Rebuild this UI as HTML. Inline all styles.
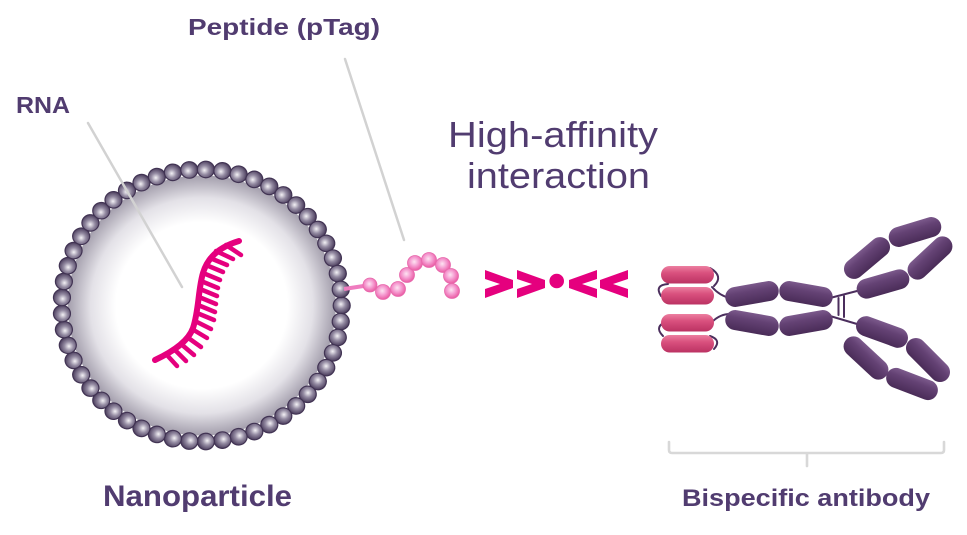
<!DOCTYPE html>
<html><head><meta charset="utf-8">
<style>
html,body{margin:0;padding:0;background:#fff;}
svg{display:block;}
text{font-family:"Liberation Sans",Arial,sans-serif;fill:#513c70;}
</style></head>
<body>
<svg width="967" height="535" viewBox="0 0 967 535" xmlns="http://www.w3.org/2000/svg">
<defs>
  <radialGradient id="np" cx="0.5" cy="0.5" r="0.5">
    <stop offset="0" stop-color="#ffffff"/>
    <stop offset="0.64" stop-color="#ffffff"/>
    <stop offset="0.83" stop-color="#e3e1e7"/>
    <stop offset="1" stop-color="#a39eac"/>
  </radialGradient>
  <radialGradient id="bead" cx="0.45" cy="0.42" r="0.6">
    <stop offset="0" stop-color="#f4f2f6"/>
    <stop offset="0.45" stop-color="#958ca3"/>
    <stop offset="1" stop-color="#463858"/>
  </radialGradient>
  <radialGradient id="pbead" cx="0.45" cy="0.42" r="0.6">
    <stop offset="0" stop-color="#fde4f2"/>
    <stop offset="0.5" stop-color="#f59ad0"/>
    <stop offset="1" stop-color="#e9569f"/>
  </radialGradient>
  <linearGradient id="pg" x1="0" y1="0" x2="0" y2="1">
    <stop offset="0" stop-color="#7c5a8c"/>
    <stop offset="0.35" stop-color="#644274"/>
    <stop offset="1" stop-color="#4a2c58"/>
  </linearGradient>
  <linearGradient id="kg" x1="0" y1="0" x2="0" y2="1">
    <stop offset="0" stop-color="#ec7fa1"/>
    <stop offset="0.4" stop-color="#d9507e"/>
    <stop offset="1" stop-color="#bb3262"/>
  </linearGradient>
  <circle id="b" cx="0" cy="0" r="8.5" fill="url(#bead)" stroke="#413353" stroke-width="1.2"/>
  <rect id="cap" x="-27" y="-10" width="54" height="20" rx="10" fill="url(#pg)"/>
</defs>

<ellipse cx="201.7" cy="305.5" rx="134" ry="130" fill="url(#np)"/>

<g transform="translate(201.7,305.5) scale(1,0.972)">
  <use href="#b" transform="rotate(0) translate(140,0)"/>
  <use href="#b" transform="rotate(6.79) translate(140,0)"/>
  <use href="#b" transform="rotate(13.58) translate(140,0)"/>
  <use href="#b" transform="rotate(20.38) translate(140,0)"/>
  <use href="#b" transform="rotate(27.17) translate(140,0)"/>
  <use href="#b" transform="rotate(33.96) translate(140,0)"/>
  <use href="#b" transform="rotate(40.75) translate(140,0)"/>
  <use href="#b" transform="rotate(47.55) translate(140,0)"/>
  <use href="#b" transform="rotate(54.34) translate(140,0)"/>
  <use href="#b" transform="rotate(61.13) translate(140,0)"/>
  <use href="#b" transform="rotate(67.92) translate(140,0)"/>
  <use href="#b" transform="rotate(74.72) translate(140,0)"/>
  <use href="#b" transform="rotate(81.51) translate(140,0)"/>
  <use href="#b" transform="rotate(88.30) translate(140,0)"/>
  <use href="#b" transform="rotate(95.09) translate(140,0)"/>
  <use href="#b" transform="rotate(101.89) translate(140,0)"/>
  <use href="#b" transform="rotate(108.68) translate(140,0)"/>
  <use href="#b" transform="rotate(115.47) translate(140,0)"/>
  <use href="#b" transform="rotate(122.26) translate(140,0)"/>
  <use href="#b" transform="rotate(129.06) translate(140,0)"/>
  <use href="#b" transform="rotate(135.85) translate(140,0)"/>
  <use href="#b" transform="rotate(142.64) translate(140,0)"/>
  <use href="#b" transform="rotate(149.43) translate(140,0)"/>
  <use href="#b" transform="rotate(156.23) translate(140,0)"/>
  <use href="#b" transform="rotate(163.02) translate(140,0)"/>
  <use href="#b" transform="rotate(169.81) translate(140,0)"/>
  <use href="#b" transform="rotate(176.60) translate(140,0)"/>
  <use href="#b" transform="rotate(183.40) translate(140,0)"/>
  <use href="#b" transform="rotate(190.19) translate(140,0)"/>
  <use href="#b" transform="rotate(196.98) translate(140,0)"/>
  <use href="#b" transform="rotate(203.77) translate(140,0)"/>
  <use href="#b" transform="rotate(210.57) translate(140,0)"/>
  <use href="#b" transform="rotate(217.36) translate(140,0)"/>
  <use href="#b" transform="rotate(224.15) translate(140,0)"/>
  <use href="#b" transform="rotate(230.94) translate(140,0)"/>
  <use href="#b" transform="rotate(237.74) translate(140,0)"/>
  <use href="#b" transform="rotate(244.53) translate(140,0)"/>
  <use href="#b" transform="rotate(251.32) translate(140,0)"/>
  <use href="#b" transform="rotate(258.11) translate(140,0)"/>
  <use href="#b" transform="rotate(264.91) translate(140,0)"/>
  <use href="#b" transform="rotate(271.70) translate(140,0)"/>
  <use href="#b" transform="rotate(278.49) translate(140,0)"/>
  <use href="#b" transform="rotate(285.28) translate(140,0)"/>
  <use href="#b" transform="rotate(292.08) translate(140,0)"/>
  <use href="#b" transform="rotate(298.87) translate(140,0)"/>
  <use href="#b" transform="rotate(305.66) translate(140,0)"/>
  <use href="#b" transform="rotate(312.45) translate(140,0)"/>
  <use href="#b" transform="rotate(319.25) translate(140,0)"/>
  <use href="#b" transform="rotate(326.04) translate(140,0)"/>
  <use href="#b" transform="rotate(332.83) translate(140,0)"/>
  <use href="#b" transform="rotate(339.62) translate(140,0)"/>
  <use href="#b" transform="rotate(346.42) translate(140,0)"/>
  <use href="#b" transform="rotate(353.21) translate(140,0)"/>
</g>

<line x1="88" y1="123" x2="182" y2="287" stroke="#d2d2d2" stroke-width="2.5" stroke-linecap="round"/>
<line x1="345" y1="59" x2="404" y2="240" stroke="#d2d2d2" stroke-width="2.5" stroke-linecap="round"/>

<g stroke="#e5007e" stroke-linecap="round" fill="none">
  <path d="M155,360 C172,352 188,342 193,328 C199,310 198,290 203,273 C208,256 222,246 239,241" stroke-width="6"/>
  <g stroke-width="4.5">
    <line x1="226" y1="245" x2="241" y2="255"/>
    <line x1="216" y1="251" x2="233" y2="259"/>
    <line x1="210" y1="258" x2="227" y2="265"/>
    <line x1="206" y1="265" x2="223" y2="272"/>
    <line x1="203" y1="273" x2="220" y2="280"/>
    <line x1="201" y1="281" x2="218" y2="288"/>
    <line x1="200" y1="289" x2="217" y2="296"/>
    <line x1="199" y1="297" x2="216" y2="304"/>
    <line x1="198" y1="305" x2="215" y2="312"/>
    <line x1="197" y1="313" x2="214" y2="320"/>
    <line x1="195" y1="321" x2="211" y2="329"/>
    <line x1="192" y1="329" x2="207" y2="338"/>
    <line x1="187" y1="337" x2="201" y2="347"/>
    <line x1="181" y1="344" x2="194" y2="355"/>
    <line x1="174" y1="349" x2="186" y2="361"/>
    <line x1="166" y1="354" x2="177" y2="366"/>
  </g>
</g>

<line x1="344" y1="289" x2="370" y2="285" stroke="#ef7cbf" stroke-width="4"/>
<g stroke="#e768ac" stroke-width="0.8">
  <circle cx="370" cy="285" r="7" fill="url(#pbead)"/>
  <circle cx="383" cy="292" r="7.5" fill="url(#pbead)"/>
  <circle cx="398" cy="289" r="7.5" fill="url(#pbead)"/>
  <circle cx="407" cy="275" r="7.5" fill="url(#pbead)"/>
  <circle cx="415" cy="263" r="7.5" fill="url(#pbead)"/>
  <circle cx="429" cy="260" r="7.5" fill="url(#pbead)"/>
  <circle cx="443" cy="265" r="7.5" fill="url(#pbead)"/>
  <circle cx="451" cy="276" r="7.5" fill="url(#pbead)"/>
  <circle cx="452" cy="291" r="7.5" fill="url(#pbead)"/>
</g>

<g fill="#e5007e">
  <polygon points="485,270 513,280 513,288 485,298 485,289 500,284 485,279"/>
  <polygon points="517,270 545,280 545,288 517,298 517,289 532,284 517,279"/>
  <circle cx="556.7" cy="281" r="7.3"/>
  <polygon points="597,270 569,280 569,288 597,298 597,289 582,284 597,279"/>
  <polygon points="628,270 600,280 600,288 628,298 628,289 613,284 628,279"/>
</g>

<g stroke="#4b2e5d" stroke-width="2" fill="none" stroke-linecap="round">
  <path d="M668,284 Q654,285 661,296"/>
  <path d="M710,268 Q724,276 714,286"/>
  <path d="M712,287 Q720,296 730,298"/>
  <path d="M668,321 Q653,326 663,336"/>
  <path d="M710,336 Q722,340 714,349"/>
  <path d="M712,322 Q720,314 730,314"/>
  <path d="M830,298 L857,291"/>
  <path d="M830,316 L857,324"/>
  <path d="M838.5,298 L838.5,315 M844,296 L844,317"/>
</g>

<g fill="url(#kg)">
  <rect x="661" y="266" width="53" height="17.5" rx="8.7"/>
  <rect x="661" y="287" width="53" height="17.5" rx="8.7"/>
  <rect x="661" y="314" width="53" height="17.5" rx="8.7"/>
  <rect x="661" y="335" width="53" height="17.5" rx="8.7"/>
</g>

<use href="#cap" transform="translate(752,294) rotate(-10)"/>
<use href="#cap" transform="translate(806,294) rotate(10)"/>
<use href="#cap" transform="translate(752,323) rotate(10)"/>
<use href="#cap" transform="translate(806,323) rotate(-10)"/>

<use href="#cap" transform="translate(867,258) rotate(-40)"/>
<use href="#cap" transform="translate(915,232) rotate(-17)"/>
<use href="#cap" transform="translate(930,258) rotate(-43)"/>
<use href="#cap" transform="translate(883,284) rotate(-16)"/>

<use href="#cap" transform="translate(882,332) rotate(20)"/>
<use href="#cap" transform="translate(866,358) rotate(43)"/>
<use href="#cap" transform="translate(912,384) rotate(21)"/>
<use href="#cap" transform="translate(928,360) rotate(45)"/>

<path d="M669,442 L669,450 Q669,453 672,453 L941,453 Q944,453 944,450 L944,442 M807,453 L807,466" stroke="#d8d8d8" stroke-width="2.6" fill="none" stroke-linecap="round"/>

<text x="16" y="113" font-size="23" font-weight="bold" textLength="54" lengthAdjust="spacingAndGlyphs">RNA</text>
<text x="188" y="35" font-size="23" font-weight="bold" textLength="192" lengthAdjust="spacingAndGlyphs">Peptide (pTag)</text>
<text x="448" y="147" font-size="36" textLength="210" lengthAdjust="spacingAndGlyphs">High-affinity</text>
<text x="467" y="188" font-size="36" textLength="183" lengthAdjust="spacingAndGlyphs">interaction</text>
<text x="103" y="506" font-size="30" font-weight="bold" textLength="189" lengthAdjust="spacingAndGlyphs">Nanoparticle</text>
<text x="682" y="506" font-size="24" font-weight="bold" textLength="248" lengthAdjust="spacingAndGlyphs">Bispecific antibody</text>
</svg>
</body></html>
